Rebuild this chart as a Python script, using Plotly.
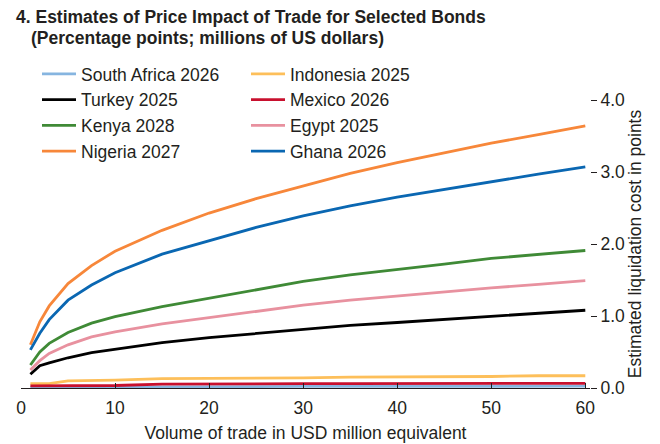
import plotly.graph_objects as go

x_vals = [1, 2, 3, 5, 7.5, 10, 15, 20, 25, 30, 35, 40, 45, 50, 55, 60]

south_africa = [0.01, 0.01, 0.01, 0.012, 0.012, 0.015, 0.02, 0.02, 0.02, 0.022, 0.022, 0.025, 0.025, 0.025, 0.025, 0.025]
indonesia = [0.06, 0.06, 0.06, 0.10, 0.10, 0.11, 0.13, 0.13, 0.14, 0.14, 0.15, 0.15, 0.16, 0.16, 0.17, 0.17]
turkey = [0.19, 0.31, 0.35, 0.42, 0.49, 0.54, 0.63, 0.70, 0.76, 0.82, 0.87, 0.91, 0.95, 0.99, 1.04, 1.08]
mexico = [0.03, 0.03, 0.03, 0.03, 0.03, 0.035, 0.055, 0.06, 0.06, 0.06, 0.062, 0.062, 0.064, 0.065, 0.065, 0.065]
kenya = [0.32, 0.50, 0.62, 0.77, 0.90, 0.99, 1.13, 1.25, 1.37, 1.48, 1.57, 1.64, 1.72, 1.80, 1.86, 1.91]
egypt = [0.25, 0.38, 0.48, 0.60, 0.71, 0.78, 0.89, 0.98, 1.07, 1.15, 1.22, 1.28, 1.33, 1.39, 1.44, 1.49]
nigeria = [0.60, 0.92, 1.14, 1.45, 1.70, 1.90, 2.19, 2.43, 2.63, 2.81, 2.98, 3.13, 3.27, 3.40, 3.52, 3.64]
ghana = [0.53, 0.76, 0.95, 1.22, 1.43, 1.60, 1.86, 2.05, 2.23, 2.39, 2.53, 2.65, 2.76, 2.86, 2.97, 3.07]

series_names = ["South Africa 2026", "Indonesia 2025", "Turkey 2025", "Mexico 2026",
                "Kenya 2028", "Egypt 2025", "Nigeria 2027", "Ghana 2026"]
series_values = [south_africa, indonesia, turkey, mexico, kenya, egypt, nigeria, ghana]
series_colors = ["#86b5e0", "#fdbf5a", "#000000", "#c8102e",
                 "#3f8a36", "#e8919f", "#f7873a", "#0a67b2"]

x_ticks = [0, 10, 20, 30, 40, 50, 60]
y_ticks = [0, 1, 2, 3, 4]
y_tick_labels = ["0.0", "1.0", "2.0", "3.0", "4.0"]

FONT = "Liberation Sans, Arial, sans-serif"
TITLE_FONT = "Liberation Sans Narrow, Arial Narrow, sans-serif"
TXT = "#231f20"

# page body has an 8px margin, so the figure is drawn 8px in from the window corner
OFF = 8
W, H = 660 - OFF, 444 - OFF
L, R, T, B = 13, 70, 92, 56
PW, PH = W - L - R, H - T - B


def px_x(screen_x):
    return (screen_x - OFF - L) / PW


def px_y(screen_y):
    return (H - B - (screen_y - OFF)) / PH


fig = go.Figure()
for name, vals, col in zip(series_names, series_values, series_colors):
    fig.add_trace(go.Scatter(x=x_vals, y=vals, name=name, mode="lines",
                             line=dict(color=col, width=2.8), yaxis="y2"))

fig.update_layout(
    width=W, height=H,
    margin=dict(l=L, r=R, t=T, b=B, autoexpand=False),
    plot_bgcolor="white", paper_bgcolor="white",
    font=dict(family=FONT, size=17.5, color=TXT),
    xaxis=dict(range=[0, 60.5], tickvals=x_ticks, ticks="inside", ticklen=5,
               tickcolor=TXT, showline=True, linecolor=TXT, linewidth=1,
               showgrid=False, zeroline=False, automargin=False,
               ticklabelstandoff=4,
               title=dict(text="Volume of trade in USD million equivalent",
                          font=dict(size=17.5), standoff=9),
               tickfont=dict(size=17.5)),
    yaxis=dict(range=[0, 4], tickvals=y_ticks, showticklabels=False,
               ticks="outside", ticklen=6, tickcolor=TXT, showline=False,
               showgrid=False, zeroline=False, automargin=False),
    yaxis2=dict(range=[0, 4], tickvals=y_ticks, ticktext=y_tick_labels,
                overlaying="y", side="right", ticks="outside", ticklen=6,
                tickcolor=TXT, showline=False, showgrid=False, zeroline=False,
                tickfont=dict(size=17.5), automargin=False,
                title=dict(text="Estimated liquidation cost in points",
                           font=dict(size=17.5), standoff=4)),
    legend=dict(orientation="h", x=px_x(37), y=px_y(56), xanchor="left", yanchor="top",
                entrywidth=160, entrywidthmode="pixels", font=dict(size=17.5),
                bgcolor="rgba(0,0,0,0)", itemwidth=34, tracegroupgap=0),
    showlegend=True,
    annotations=[
        dict(text="<b>4. Estimates of Price Impact of Trade for Selected Bonds</b>",
             xref="paper", yref="paper", x=px_x(14), y=px_y(17),
             xanchor="left", yanchor="middle", showarrow=False,
             font=dict(family=TITLE_FONT, size=17.5, color=TXT)),
        dict(text="<b>(Percentage points; millions of US dollars)</b>",
             xref="paper", yref="paper", x=px_x(29), y=px_y(37.5),
             xanchor="left", yanchor="middle", showarrow=False,
             font=dict(family=TITLE_FONT, size=17.5, color=TXT)),
    ],
)

fig.write_html("out.html")
